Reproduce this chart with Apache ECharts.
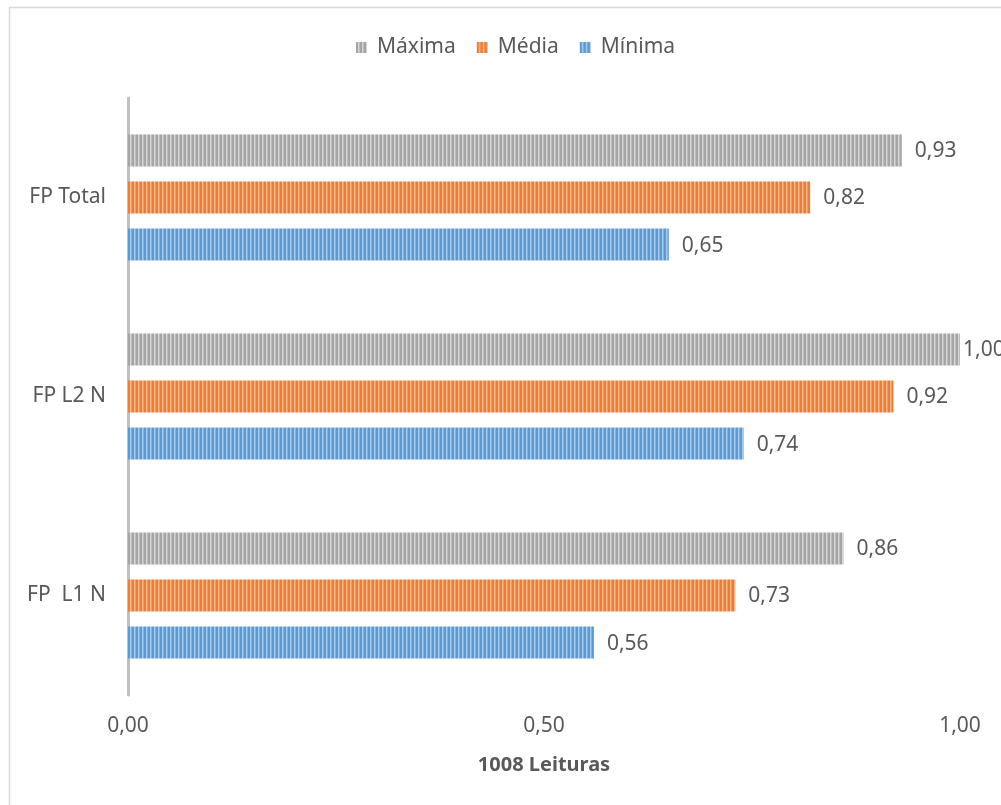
<!DOCTYPE html>
<html>
<head>
<meta charset="utf-8">
<script src="https://cdn.jsdelivr.net/npm/echarts@6/dist/echarts.min.js"></script>
<style>
html,body{margin:0;padding:0;background:#fff;}
#c{width:1001px;height:805px;}
</style>
</head>
<body>
<div id="c"></div>
<script>
const categories = ['FP Total', 'FP L2 N', 'FP  L1 N'];
const seriesNames = ['Máxima', 'Média', 'Mínima'];
const maxima = [0.93, 1.00, 0.86];
const media = [0.82, 0.92, 0.73];
const minima = [0.65, 0.74, 0.56];
const xTicks = [0, 0.5, 1];

function stripe(dark, light, mid) {
  const cv = document.createElement('canvas');
  cv.width = 4; cv.height = 4;
  const ctx = cv.getContext('2d');
  const cols = [dark, dark, light, mid];
  for (let i = 0; i < 4; i++) { ctx.fillStyle = cols[i]; ctx.fillRect(i, 0, 1, 4); }
  return { image: cv, repeat: 'repeat' };
}
const patGray = stripe('#A5A5A5', '#D6D6D6', '#BDBDBD');
const patOrange = stripe('#ED7D31', '#F6B88E', '#F09A5E');
const patBlue = stripe('#5B9BD5', '#A9CCEC', '#7FB2E0');

const fmt = v => v.toFixed(2).replace('.', ',');
const FONT = '"Noto Sans", sans-serif';
const TXT = '#595959';
const FS = 21;

function mk(name, data, pat) {
  return {
    name: name, type: 'bar', barWidth: 32, barGap: '47%',
    data: data.map(v => v >= 1 ? { value: v, label: { distance: 3 } } : v),
    itemStyle: { color: pat },
    label: { show: true, position: 'right', distance: 13, offset: [0, 1], color: TXT, fontSize: FS, fontFamily: FONT,
      formatter: p => fmt(p.value) }
  };
}

const chart = echarts.init(document.getElementById('c'), null, { renderer: 'canvas' });
chart.setOption({
  backgroundColor: '#fff',
  animation: false,
  textStyle: { fontFamily: FONT },
  graphic: [{ type: 'rect', shape: { x: 9.5, y: 7.5, width: 1200, height: 1000 },
    style: { fill: 'none', stroke: '#D9D9D9', lineWidth: 1.5 }, silent: true, z: -10 }],
  legend: {
    data: seriesNames, top: 32, left: 351, itemWidth: 11, itemHeight: 11, itemGap: 21,
    icon: 'rect',
    textStyle: { color: TXT, fontSize: FS, fontFamily: FONT, padding: [0, 0, 0, 5] }
  },
  grid: { left: 128, right: 41, top: 98, bottom: 110, containLabel: false },
  xAxis: {
    type: 'value', min: xTicks[0], max: xTicks[xTicks.length - 1], interval: 0.5,
    axisLine: { show: false }, axisTick: { show: false }, splitLine: { show: false },
    axisLabel: { color: TXT, fontSize: FS, fontFamily: FONT, margin: 21, formatter: v => fmt(v) },
    name: '1008 Leituras', nameLocation: 'middle', nameGap: 60,
    nameTextStyle: { color: TXT, fontSize: 20, fontWeight: 'bold', fontFamily: FONT }
  },
  yAxis: {
    type: 'category', data: categories, inverse: true,
    axisLine: { show: true, lineStyle: { color: '#BFBFBF', width: 3 } },
    axisTick: { show: false },
    axisLabel: { color: TXT, fontSize: FS, fontFamily: FONT, margin: 22 }
  },
  series: [
    mk(seriesNames[0], maxima, patGray),
    mk(seriesNames[1], media, patOrange),
    mk(seriesNames[2], minima, patBlue)
  ]
});
</script>
</body>
</html>
